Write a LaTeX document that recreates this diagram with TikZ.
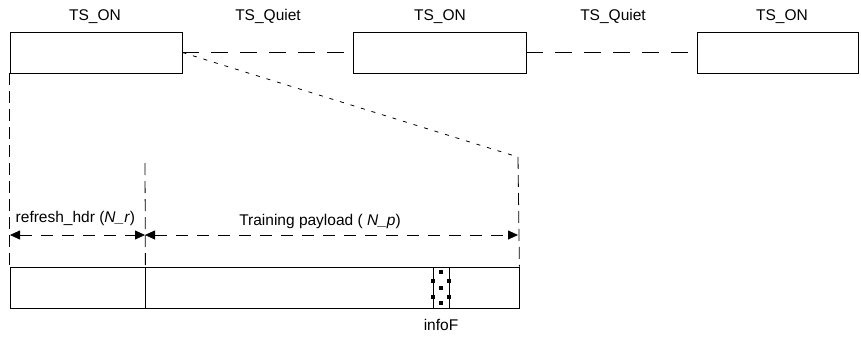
\documentclass[tikz,border=0pt]{standalone}
\usepackage{fontspec}
\setmainfont{Liberation Sans}
\usetikzlibrary{arrows.meta}

\tikzset{
  slot/.style={draw,rectangle,inner sep=0,minimum height=41},
  field/.style={draw,rectangle,inner sep=0,minimum height=41},
  quiet/.style={dash pattern=on 17pt off 12pt},
  zoomline/.style={dash pattern=on 4pt off 7pt},
  guide/.style={dash pattern=on 12pt off 6pt},
  span/.style={dash pattern=on 12pt off 9pt,
    {Triangle[length=10pt,width=9pt]}-{Triangle[length=10pt,width=9pt]}},
}

\begin{document}
\begin{tikzpicture}[x=1pt,y=-1pt,font=\fontsize{15.5}{18}\selectfont,line width=0.8pt]
\useasboundingbox (0,0) rectangle (861,337);

% on / quiet periods
\node[slot,minimum width=172] (on1) at (96,52.5) {};
\node[slot,minimum width=173] (on2) at (439.5,52.5) {};
\node[slot,minimum width=161] (on3) at (777.5,52.5) {};
\node[anchor=base] (lon1) at (95,21) {TS\_ON};
\node[anchor=base] (lq1) at (268,21) {TS\_Quiet};
\node[anchor=base] (lon2) at (440,21) {TS\_ON};
\node[anchor=base] (lq2) at (613,21) {TS\_Quiet};
\node[anchor=base] (lon3) at (782,21) {TS\_ON};
\draw[quiet] (on1.east) -- (on2.west);
\draw[quiet] (on2.east) -- (on3.west);

% frame inside one on period
\node[field,minimum width=135] (hdr) at (77.5,287.5) {};
\node[field,minimum width=374] (pay) at (332,287.5) {};
\node[field,minimum width=16,fill=white] (inf) at (441,287.5) {};
\fill (439,270) rectangle (443,274);
\fill (439,286) rectangle (443,290);
\fill (439,301) rectangle (443,305);
\fill (431,279) rectangle (435,283);
\fill (431,295) rectangle (435,299);
\fill (447,279) rectangle (451,283);
\fill (447,295) rectangle (451,299);
\node[anchor=base] (linf) at (441,330) {infoF};

% zoom lines
\coordinate (zr) at (518,157);
\coordinate (mt) at (145,163);
\draw[zoomline] (on1.east) -- (zr);
\draw[guide] (on1.south west) -- (hdr.north west);
\draw[guide] (mt) -- (hdr.north east);
\draw[guide] (zr) -- (pay.north east);

% lengths
\coordinate (a0) at (10,235);
\coordinate (a1) at (145,235);
\coordinate (a2) at (518,235);
\draw[span] (a0) -- (a1);
\draw[span] (a1) -- (a2);
\node[anchor=base west] (lhdr) at (12,222) {refresh\_hdr (\textit{N\_r})};
\node[anchor=base] (lpay) at (320,225) {Training payload ( \textit{N\_p})};
\end{tikzpicture}
\end{document}
